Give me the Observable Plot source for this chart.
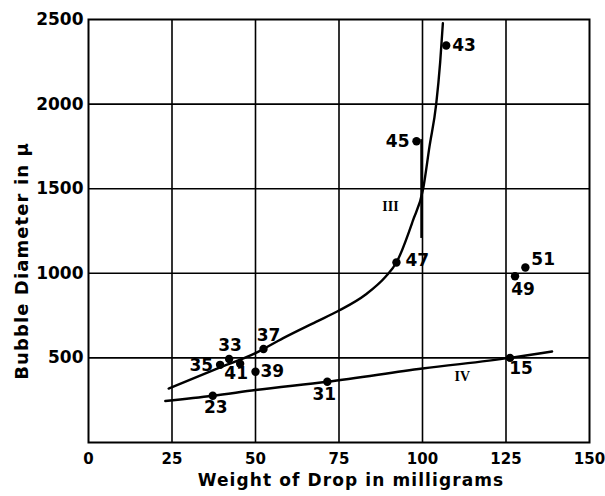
<!DOCTYPE html>
<html><head><meta charset="utf-8">
<script src="https://cdn.jsdelivr.net/npm/d3@7"></script>
<script src="https://cdn.jsdelivr.net/npm/@observablehq/plot@0.6"></script>
<style>
html,body{margin:0;padding:0;background:#fff;}
</style>
</head><body>
<div id="chart"></div>
<script>
// ---- data ----
const pointIds = ["43","45","47","51","49","15","31","23","35","33","41","39","37"];
const pointWeight = [107.1, 98.2, 92.2, 130.8, 127.7, 126.2, 71.5, 37.2, 39.4, 42.1, 45.4, 50.0, 52.4];
const pointDiameter = [2346, 1780, 1064, 1034, 983, 500, 359, 276, 459, 494, 465, 418, 553];

const curveIIIWeight = [24, 38.5, 50, 58.3, 68.1, 75, 83, 89, 92.2, 97.1, 100.2, 102.1, 104.1, 105.3, 106.1];
const curveIIIDiameter = [319, 437, 528, 617, 713, 780, 875, 981, 1064, 1310, 1500, 1750, 2000, 2250, 2478];

const curveIVWeight = [23, 37.2, 50, 71.5, 100, 126.2, 138.8];
const curveIVDiameter = [245, 276, 310, 359, 437, 500, 538];

const verticalSegment = [{x: 99.6, y1: 1206, y2: 1790}];

const curveLabels = ["III", "IV"];
const curveLabelWeight = [90.4, 111.9];
const curveLabelDiameter = [1395, 388];

const xTicks = [0, 25, 50, 75, 100, 125, 150];
const yTicks = [500, 1000, 1500, 2000, 2500];
const xGrid = [25, 50, 75, 100, 125];
const yGrid = [500, 1000, 1500, 2000];
const xLabel = "Weight of Drop in milligrams";
const yLabel = "Bubble Diameter in \u03bc";

// ---- layout of point labels (pixel offsets) ----
const labelOffsets = {
  "43": {dx: 6, dy: 0, anchor: "start"},
  "45": {dx: -7, dy: 0, anchor: "end"},
  "47": {dx: 9, dy: -2, anchor: "start"},
  "51": {dx: 6, dy: -8, anchor: "start"},
  "49": {dx: 8, dy: 13, anchor: "middle"},
  "15": {dx: 11, dy: 11, anchor: "middle"},
  "31": {dx: -3, dy: 13, anchor: "middle"},
  "23": {dx: 3, dy: 12, anchor: "middle"},
  "35": {dx: -7, dy: 1, anchor: "end"},
  "33": {dx: 1, dy: -13, anchor: "middle"},
  "41": {dx: -4, dy: 10, anchor: "middle"},
  "39": {dx: 5, dy: 0, anchor: "start"},
  "37": {dx: 5, dy: -13, anchor: "middle"}
};

const points = pointIds.map((id, i) => ({id, x: pointWeight[i], y: pointDiameter[i]}));
const curveIII = curveIIIWeight.map((x, i) => ({x, y: curveIIIDiameter[i]}));
const curveIV = curveIVWeight.map((x, i) => ({x, y: curveIVDiameter[i]}));
const romans = curveLabels.map((t, i) => ({t, x: curveLabelWeight[i], y: curveLabelDiameter[i]}));

const labelMarks = points.map(p => {
  const o = labelOffsets[p.id];
  return Plot.text([p], {x: "x", y: "y", text: "id", dx: o.dx, dy: o.dy, textAnchor: o.anchor,
    fontSize: 17, fontWeight: "bold", fill: "black"});
});

const chart = Plot.plot({
  width: 605,
  height: 496,
  marginLeft: 88,
  marginRight: 16,
  marginTop: 19,
  marginBottom: 54,
  style: {fontFamily: "DejaVu Sans", fontSize: "17px", fontWeight: "bold", color: "black", background: "white"},
  x: {domain: [0, 150]},
  y: {domain: [0, 2500]},
  marks: [
    Plot.ruleX(xGrid, {stroke: "black", strokeWidth: 1.6}),
    Plot.ruleY(yGrid, {stroke: "black", strokeWidth: 1.6}),
    Plot.frame({stroke: "black", strokeWidth: 2}),
    Plot.axisX({ticks: xTicks, tickSize: 0, tickPadding: 11, label: null, fontSize: 15, tickFormat: d => String(d)}),
    Plot.axisY({ticks: yTicks, tickSize: 0, tickPadding: 5, label: null, tickFormat: d => String(d)}),
    Plot.line(curveIII, {x: "x", y: "y", curve: "monotone-x", stroke: "black", strokeWidth: 2.4}),
    Plot.line(curveIV, {x: "x", y: "y", curve: "monotone-x", stroke: "black", strokeWidth: 2.4}),
    Plot.ruleX(verticalSegment, {x: "x", y1: "y1", y2: "y2", stroke: "black", strokeWidth: 1.8}),
    Plot.dot(points, {x: "x", y: "y", r: 4.2, fill: "black", stroke: "none"}),
    ...labelMarks,
    Plot.text(romans, {x: "x", y: "y", text: "t", fontFamily: "Liberation Serif", fontWeight: "bold", fontSize: 14, fill: "black"}),
    Plot.text([xLabel], {frameAnchor: "bottom", text: d => d, dx: 12, dy: 38, lineAnchor: "middle", textAnchor: "middle", fontSize: 17, fontWeight: "bold", fill: "black"}),
    Plot.text([yLabel], {frameAnchor: "left", text: d => d, rotate: -90, dx: -66, dy: 30, lineAnchor: "middle", textAnchor: "middle", fontSize: 18, fontWeight: "bold", fill: "black"})
  ]
});

d3.select(chart).selectAll("text")
  .filter(function() { return this.textContent === xLabel || this.textContent === yLabel; })
  .style("letter-spacing", "1.1px");

document.getElementById("chart").appendChild(chart);
</script>
</body></html>
